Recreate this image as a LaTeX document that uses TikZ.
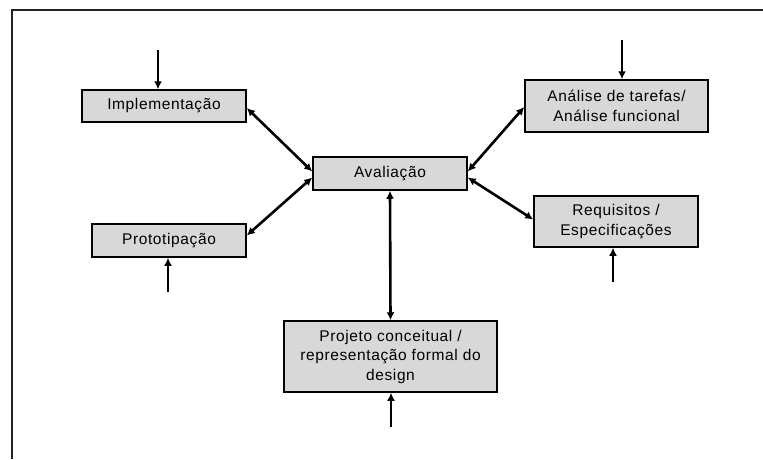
\documentclass[tikz,border=0pt]{standalone}
\usepackage{fontspec}
\setmainfont{Liberation Sans}[LetterSpace=4]
\usetikzlibrary{arrows.meta}
\definecolor{boxgray}{RGB}{216,216,216}
\definecolor{framegray}{RGB}{35,35,35}
\tikzstyle{box}=[draw, fill=boxgray, line width=1.5pt, align=center, inner sep=0pt, font=\fontsize{15.5}{19.5}\selectfont]
\tikzstyle{link}=[line width=2.6pt, {Latex[length=8pt,width=8pt]}-{Latex[length=8pt,width=8pt]}]
\tikzstyle{input}=[line width=2.6pt, -{Latex[length=8pt,width=8pt]}]

\begin{document}
\begin{tikzpicture}[x=1pt, y=-1pt]
  \useasboundingbox (0,0) rectangle (763,459);
% Frame
    \draw[framegray, line width=1.6pt] (12,459) |- (763,10);
% Boxes
  \node[box, minimum width=164pt, minimum height=32pt] (impl) at (164,106) {Implementação};
  \node[box, minimum width=154pt, minimum height=33pt] (aval) at (390,173.5) {Avaliação};
  \node[box, minimum width=183pt, minimum height=52pt] (anal) at (616.5,106) {Análise de tarefas/\\Análise funcional};
  \node[box, minimum width=164pt, minimum height=51pt] (req) at (616,221.5) {Requisitos /\\Especificações};
  \node[box, minimum width=154pt, minimum height=33pt] (proto) at (169,240.5) {Prototipação};
  \node[box, minimum width=213pt, minimum height=71pt] (proj) at (390.5,356.5) {Projeto conceitual /\\representação formal do\\design};
% Links to Avaliação
    \draw[link] ([yshift=-2pt]impl.east) -- ([yshift=2pt]aval.west);
    \draw[link] ([yshift=5pt]proto.east) -- ([yshift=-4pt]aval.west);
    \draw[link] ([yshift=-1pt]anal.west) -- ([yshift=2pt]aval.east);
    \draw[link] ([yshift=2pt]req.west) -- ([yshift=-4pt]aval.east);
    \draw[link] (aval.south) -- (proj.north);
% Inputs
  \coordinate (implin) at (158,50);
  \coordinate (analin) at (622,40);
  \coordinate (reqin) at (613,282);
  \coordinate (protoin) at (168,292);
  \coordinate (projin) at (391,427);
    \draw[input] (implin) -- (implin |- impl.north);
    \draw[input] (analin) -- (analin |- anal.north);
    \draw[input] (reqin) -- (reqin |- req.south);
    \draw[input] (protoin) -- (protoin |- proto.south);
    \draw[input] (projin) -- (projin |- proj.south);
\end{tikzpicture}
\end{document}
